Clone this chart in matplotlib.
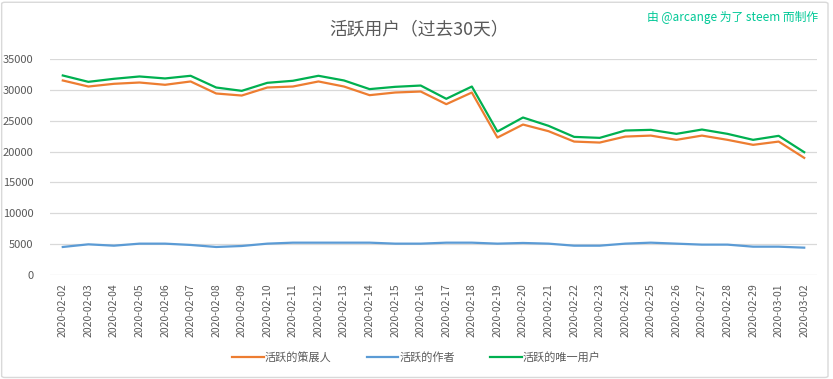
#!/usr/bin/env python3

import matplotlib
matplotlib.use("Agg")
import matplotlib.pyplot as plt
from matplotlib.patches import FancyBboxPatch

plt.rcParams['font.family'] = ['Noto Sans CJK SC', 'DejaVu Sans']

# data
dates = ["2020-02-%02d" % d for d in range(2, 30)] + ["2020-03-01", "2020-03-02"]

curators = [31520, 30540, 30980, 31190, 30820, 31360, 29410, 29080, 30380, 30540,
            31360, 30540, 29140, 29570, 29730, 27680, 29570, 22270, 24380, 23300,
            21620, 21460, 22430, 22590, 21900, 22590, 21900, 21090, 21620, 18980]
authors = [4540, 4970, 4750, 5080, 5080, 4870, 4540, 4700, 5080, 5240,
           5240, 5240, 5240, 5080, 5080, 5240, 5240, 5080, 5190, 5080,
           4750, 4750, 5080, 5240, 5080, 4920, 4920, 4590, 4590, 4430]
unique = [32330, 31300, 31790, 32170, 31850, 32280, 30380, 29840, 31140, 31470,
          32280, 31520, 30120, 30490, 30700, 28550, 30540, 23250, 25520, 24170,
          22380, 22220, 23410, 23520, 22870, 23570, 22870, 21900, 22550, 19900]

names = ["活跃的策展人", "活跃的作者", "活跃的唯一用户"]
colors = ["#ED7D31", "#5B9BD5", "#00B050"]

fig = plt.figure(figsize=(8.33, 3.79), dpi=100)
ax = fig.add_axes([50/833, 1 - 275/379, 767/833, 216/379])

# light chart border
fig.patches.append(FancyBboxPatch((0.002, 0.004), 0.992, 0.99, boxstyle="round,pad=0,rounding_size=0.004",
                                  transform=fig.transFigure, fc="none", ec="#d9d9d9", lw=1))

x = list(range(len(dates)))
for vals, name, c in zip([curators, authors, unique], names, colors):
    ax.plot(x, vals, color=c, lw=1.6, label=name)

ax.set_xlim(-0.5, len(dates) - 0.5)
ax.set_ylim(0, 35000)
ax.set_yticks(range(0, 35001, 5000))
ax.set_xticks(x)
ax.set_xticklabels(dates, rotation=90, fontsize=7.5, color="#595959")
ax.tick_params(axis="y", labelsize=8, colors="#595959", length=0, pad=12)
ax.tick_params(axis="x", length=0, pad=6)
ax.grid(axis="y", color="#d9d9d9", lw=0.9)
ax.set_axisbelow(True)
for s in ax.spines.values():
    s.set_visible(False)

fig.text(0.503, 0.922, "活跃用户（过去30天）", ha="center", va="center", fontsize=12.8, color="#595959")
fig.text(0.982, 0.953, "由 @arcange 为了 steem 而制作", ha="right", va="center", fontsize=8.5, color="#00C896")

fig.legend(loc="center", bbox_to_anchor=(0.5, 0.058), ncol=3, frameon=False, fontsize=8,
           handlelength=2.8, handletextpad=0.1, columnspacing=3.2, labelcolor="#595959")

fig.savefig("out.png", dpi=100, facecolor="white")
